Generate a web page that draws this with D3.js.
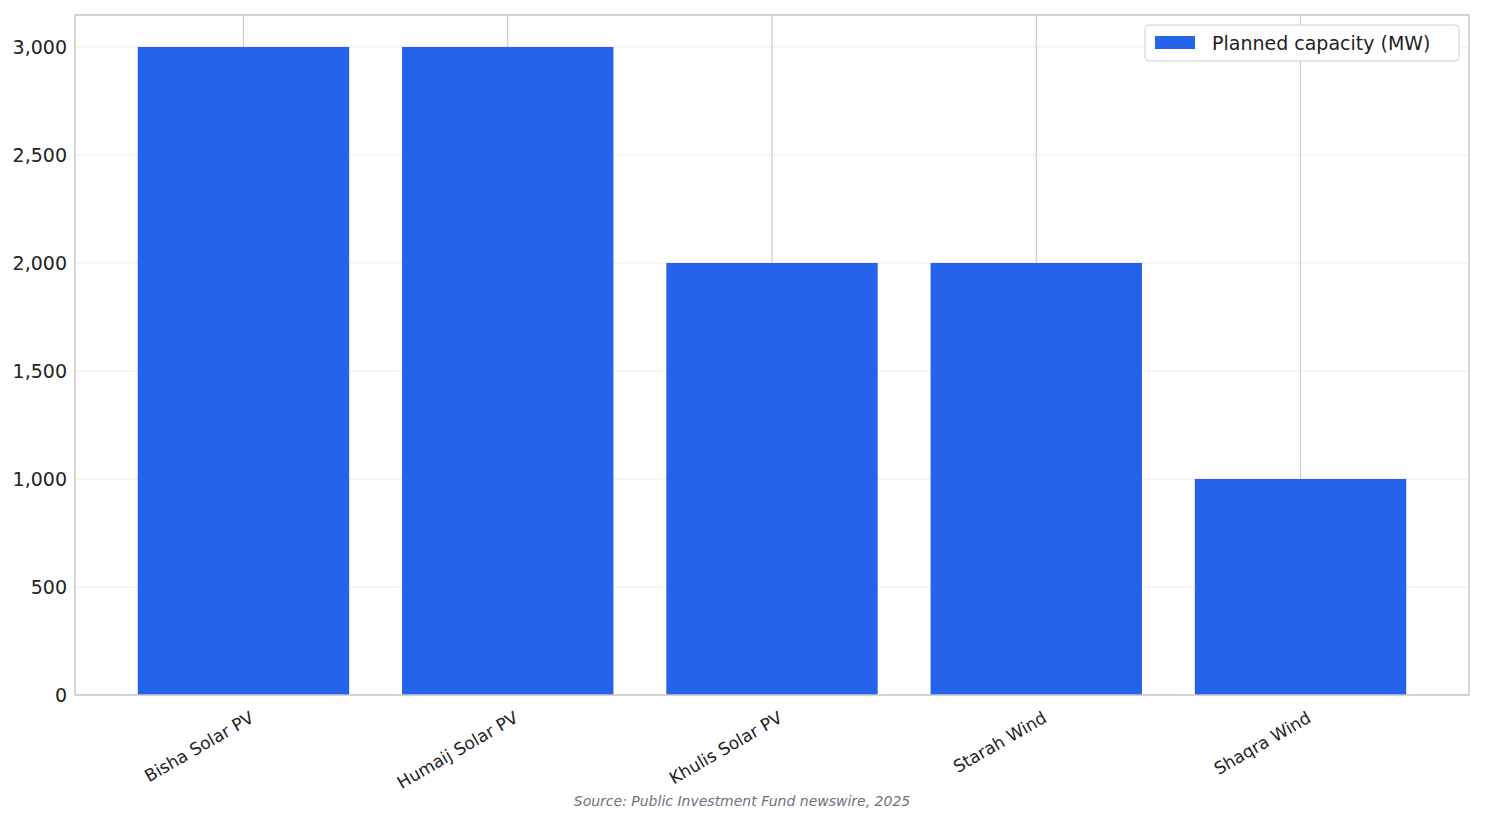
<!DOCTYPE html>
<html><head><meta charset="utf-8">
<script src="https://cdn.jsdelivr.net/npm/d3@7"></script>
<style>body{margin:0;background:#fff}text{font-family:"DejaVu Sans",sans-serif}</style>
</head><body><svg id="c" width="1485" height="824"></svg>
<script>
const categories = ["Bisha Solar PV","Humaij Solar PV","Khulis Solar PV","Starah Wind","Shaqra Wind"];
const values = [3000,3000,2000,2000,1000];
const yTicks = [0,500,1000,1500,2000,2500,3000];
const seriesName = "Planned capacity (MW)";
const source = "Source: Public Investment Fund newswire, 2025";

const svg = d3.select("#c");
const L=75,R=1469,T=15,B=695;
const x = d3.scaleBand().domain(categories).range([L,R]).paddingInner(0.2).paddingOuter(0.2375);
const y = d3.scaleLinear().domain([0,3148]).range([B,T]);

svg.append("g").selectAll("line").data(yTicks).join("line")
  .attr("x1",L).attr("x2",R).attr("y1",d=>y(d)).attr("y2",d=>y(d)).attr("stroke","#ebebeb");
svg.append("g").selectAll("line").data(categories).join("line")
  .attr("x1",d=>x(d)+x.bandwidth()/2).attr("x2",d=>x(d)+x.bandwidth()/2)
  .attr("y1",T).attr("y2",B).attr("stroke","#cccccc").attr("stroke-width",1.2);

svg.append("g").selectAll("rect").data(values).join("rect")
  .attr("x",(d,i)=>x(categories[i])).attr("width",x.bandwidth())
  .attr("y",d=>y(d)).attr("height",d=>B-y(d)).attr("fill","#2563eb");

svg.append("rect").attr("x",L).attr("y",T).attr("width",R-L).attr("height",B-T)
  .attr("fill","none").attr("stroke","#c8c8c8").attr("stroke-width",1.5);

const ya = svg.append("g").attr("transform",`translate(${L},0)`)
  .call(d3.axisLeft(y).tickValues(yTicks).tickSize(0).tickPadding(8));
ya.select(".domain").remove();
ya.selectAll("text").attr("font-size",19).attr("fill","#222").attr("font-family","DejaVu Sans");

const xa = svg.append("g").attr("transform",`translate(0,${B})`)
  .call(d3.axisBottom(x).tickSize(0).tickPadding(8));
xa.select(".domain").remove();
xa.selectAll("text").attr("font-size",17).attr("fill","#222").attr("font-family","DejaVu Sans")
  .attr("text-anchor","end").attr("dy","0.9em").attr("transform","translate(0,6) rotate(-30)");

const lg = svg.append("g");
lg.append("rect").attr("x",1145).attr("y",25).attr("width",314).attr("height",36).attr("rx",4)
  .attr("fill","#fff").attr("stroke","#d0d0d0");
lg.append("rect").attr("x",1155).attr("y",36).attr("width",40).attr("height",13).attr("fill","#2563eb");
lg.append("text").attr("x",1212).attr("y",50).attr("font-size",19).attr("fill","#222").text(seriesName);

svg.append("text").attr("x",742).attr("y",806).attr("text-anchor","middle")
  .attr("font-size",14).attr("font-style","italic").attr("fill","#6b7280").text(source);
</script></body></html>
